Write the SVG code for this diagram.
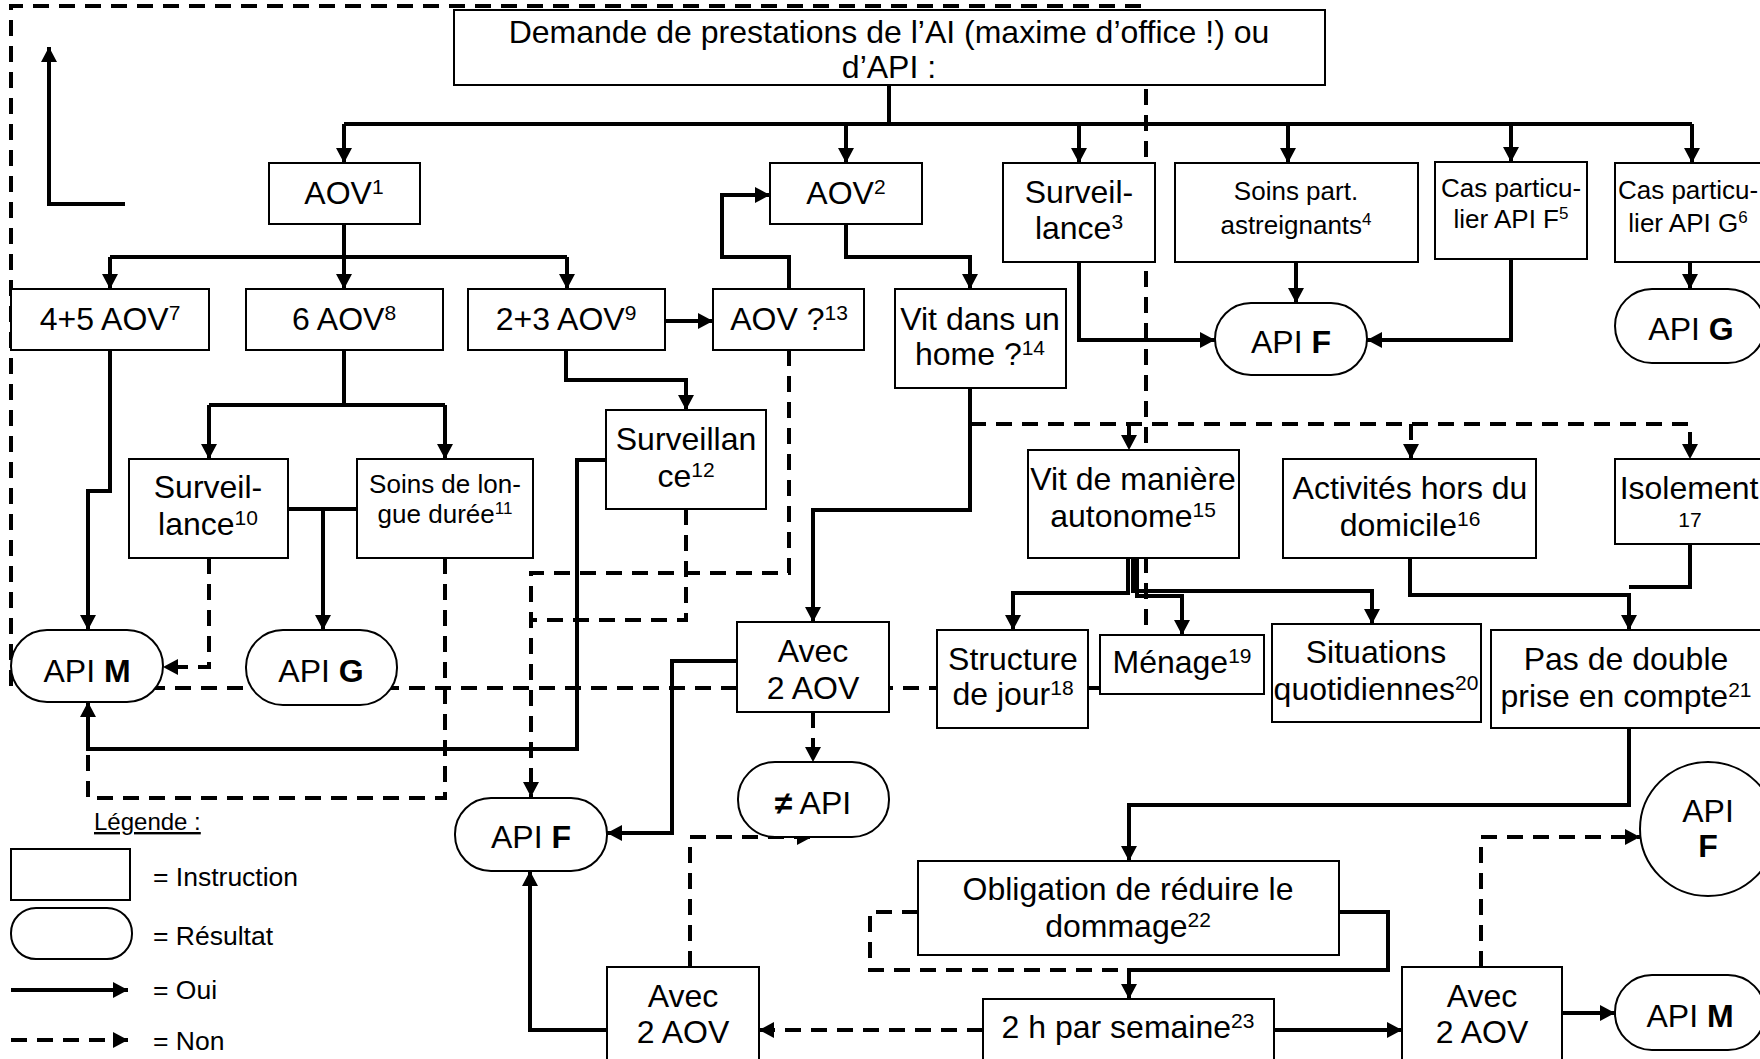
<svg xmlns="http://www.w3.org/2000/svg" width="1760" height="1059" viewBox="0 0 1760 1059">
<defs>
<style>
.box{fill:#fff;stroke:#000;stroke-width:2}
.t{font-family:"Liberation Sans",Arial,sans-serif;font-size:32px;text-anchor:middle;fill:#000}
.s{font-size:26px}
.sup{font-size:21px}
.sups{font-size:17px}
.lg{font-family:"Liberation Sans",Arial,sans-serif;font-size:26.5px;fill:#000}
.ln{fill:none;stroke:#000;stroke-width:4}
.dl{fill:none;stroke:#000;stroke-width:4;stroke-dasharray:16 10}
.b{font-weight:bold}
</style>
<marker id="ah" markerUnits="userSpaceOnUse" markerWidth="16" markerHeight="16" refX="15" refY="8" orient="auto"><path d="M0,0 L15,8 L0,16 z" fill="#000"/></marker>
</defs>
<rect x="0" y="0" width="1760" height="1059" fill="#fff"/>

<g id="connectors">
<path class="ln" d="M889,85 V124"/>
<path class="ln" d="M344,124 H1692"/>
<path class="ln" d="M344,124 V163" marker-end="url(#ah)"/>
<path class="ln" d="M846,124 V163" marker-end="url(#ah)"/>
<path class="ln" d="M1079,124 V163" marker-end="url(#ah)"/>
<path class="ln" d="M1288,124 V163" marker-end="url(#ah)"/>
<path class="ln" d="M1511,124 V162" marker-end="url(#ah)"/>
<path class="ln" d="M1692,124 V163" marker-end="url(#ah)"/>
<path class="ln" d="M344,224 V257"/>
<path class="ln" d="M110,257 H567"/>
<path class="ln" d="M110,257 V289" marker-end="url(#ah)"/>
<path class="ln" d="M344,257 V289" marker-end="url(#ah)"/>
<path class="ln" d="M567,257 V289" marker-end="url(#ah)"/>
<path class="ln" d="M846,224 V257 H970 V289" marker-end="url(#ah)"/>
<path class="ln" d="M789,289 V257 H722 V195 H770" marker-end="url(#ah)"/>
<path class="ln" d="M665,321 H713" marker-end="url(#ah)"/>
<path class="ln" d="M1079,262 V340 H1215" marker-end="url(#ah)"/>
<path class="ln" d="M1296,262 V303" marker-end="url(#ah)"/>
<path class="ln" d="M1511,259 V340 H1367" marker-end="url(#ah)"/>
<path class="ln" d="M1690,262 V289" marker-end="url(#ah)"/>
<path class="ln" d="M110,350 V491 H88 V630" marker-end="url(#ah)"/>
<path class="ln" d="M344,350 V405"/>
<path class="ln" d="M209,405 H445"/>
<path class="ln" d="M209,405 V459" marker-end="url(#ah)"/>
<path class="ln" d="M445,405 V459" marker-end="url(#ah)"/>
<path class="ln" d="M288,509 H357"/>
<path class="ln" d="M323,509 V630" marker-end="url(#ah)"/>
<path class="ln" d="M566,350 V380 H686 V410" marker-end="url(#ah)"/>
<path class="ln" d="M606,460 H577 V749 H88 V702" marker-end="url(#ah)"/>
<path class="ln" d="M970,388 V510 H813 V622" marker-end="url(#ah)"/>
<path class="ln" d="M737,661 H672 V833 H607" marker-end="url(#ah)"/>
<path class="ln" d="M607,1030 H530 V871" marker-end="url(#ah)"/>
<path class="ln" d="M1128,558 V593 H1013 V630" marker-end="url(#ah)"/>
<path class="ln" d="M1133,558 V591 H1372 V624" marker-end="url(#ah)"/>
<path class="ln" d="M1137,558 V596 H1182 V635" marker-end="url(#ah)"/>
<path class="ln" d="M1410,558 V595 H1629 V630" marker-end="url(#ah)"/>
<path class="ln" d="M1690,544 V587 H1629"/>
<path class="ln" d="M1629,728 V805 H1129 V861" marker-end="url(#ah)"/>
<path class="ln" d="M1339,912 H1388 V970 H1129 V999" marker-end="url(#ah)"/>
<path class="ln" d="M1274,1030 H1402" marker-end="url(#ah)"/>
<path class="ln" d="M1562,1013 H1615" marker-end="url(#ah)"/>
<path class="ln" d="M125,204 H49 V47" marker-end="url(#ah)"/>
<path class="dl" d="M1146,625 V6 H11 V688 H1100"/>
<path class="dl" d="M209,558 V667 H163" marker-end="url(#ah)"/>
<path class="dl" d="M445,558 V798 H88 V752"/>
<path class="dl" d="M789,350 V573 H531 V797" marker-end="url(#ah)"/>
<path class="dl" d="M686,509 V620 H531"/>
<path class="dl" d="M970,424 H1690 V459" marker-end="url(#ah)"/>
<path class="dl" d="M1129,424 V450" marker-end="url(#ah)"/>
<path class="dl" d="M1411,424 V459" marker-end="url(#ah)"/>
<path class="dl" d="M813,712 V762" marker-end="url(#ah)"/>
<path class="dl" d="M690,967 V837 H812" marker-end="url(#ah)"/>
<path class="dl" d="M918,912 H870 V970 H1129"/>
<path class="dl" d="M983,1030 H759" marker-end="url(#ah)"/>
<path class="dl" d="M1481,967 V837 H1640" marker-end="url(#ah)"/>
</g>

<g id="n-demande"><rect class="box" x="454" y="10" width="871" height="75"/>
<text class="t" x="889" y="43">Demande de prestations de l’AI (maxime d’office !) ou</text>
<text class="t" x="889" y="78">d’API :</text></g>

<g id="n-aov1"><rect class="box" x="269" y="163" width="151" height="61"/>
<text class="t" x="344" y="204">AOV<tspan class="sup" dy="-10">1</tspan></text></g>

<g id="n-aov2"><rect class="box" x="770" y="163" width="152" height="61"/>
<text class="t" x="846" y="204">AOV<tspan class="sup" dy="-10">2</tspan></text></g>

<g id="n-surv3"><rect class="box" x="1003" y="163" width="152" height="99"/>
<text class="t" x="1079" y="203">Surveil-</text>
<text class="t" x="1079" y="239">lance<tspan class="sup" dy="-10">3</tspan></text></g>

<g id="n-soins4"><rect class="box" x="1175" y="163" width="243" height="99"/>
<text class="t s" x="1296" y="200">Soins part.</text>
<text class="t s" x="1296" y="234">astreignants<tspan class="sups" dy="-9">4</tspan></text></g>

<g id="n-casf5"><rect class="box" x="1435" y="162" width="152" height="97"/>
<text class="t s" x="1511" y="197">Cas particu-</text>
<text class="t s" x="1511" y="228">lier API F<tspan class="sups" dy="-9">5</tspan></text></g>

<g id="n-casg6"><rect class="box" x="1615" y="163" width="150" height="99"/>
<text class="t s" x="1688" y="199">Cas particu-</text>
<text class="t s" x="1688" y="232">lier API G<tspan class="sups" dy="-9">6</tspan></text></g>

<g id="n-apif-top"><rect class="box" x="1215" y="303" width="152" height="72" rx="36"/>
<text class="t" x="1291" y="353">API <tspan class="b">F</tspan></text></g>

<g id="n-apig-top"><rect class="box" x="1615" y="289" width="150" height="74" rx="37"/>
<text class="t" x="1691" y="340">API <tspan class="b">G</tspan></text></g>

<g id="n-aov7"><rect class="box" x="11" y="289" width="198" height="61"/>
<text class="t" x="110" y="330">4+5 AOV<tspan class="sup" dy="-10">7</tspan></text></g>

<g id="n-aov8"><rect class="box" x="246" y="289" width="197" height="61"/>
<text class="t" x="344" y="330">6 AOV<tspan class="sup" dy="-10">8</tspan></text></g>

<g id="n-aov9"><rect class="box" x="468" y="289" width="197" height="61"/>
<text class="t" x="566" y="330">2+3 AOV<tspan class="sup" dy="-10">9</tspan></text></g>

<g id="n-aov13"><rect class="box" x="713" y="289" width="151" height="61"/>
<text class="t" x="789" y="330">AOV ?<tspan class="sup" dy="-10">13</tspan></text></g>

<g id="n-home14"><rect class="box" x="895" y="289" width="171" height="99"/>
<text class="t" x="980" y="330">Vit dans un</text>
<text class="t" x="980" y="365">home ?<tspan class="sup" dy="-10">14</tspan></text></g>

<g id="n-surv10"><rect class="box" x="129" y="459" width="159" height="99"/>
<text class="t" x="208" y="498">Surveil-</text>
<text class="t" x="208" y="535">lance<tspan class="sup" dy="-10">10</tspan></text></g>

<g id="n-soins11"><rect class="box" x="357" y="459" width="176" height="99"/>
<text class="t s" x="445" y="493">Soins de lon-</text>
<text class="t s" x="445" y="523">gue durée<tspan class="sups" dy="-9">11</tspan></text></g>

<g id="n-surv12"><rect class="box" x="606" y="410" width="160" height="99"/>
<text class="t" x="686" y="450">Surveillan</text>
<text class="t" x="686" y="487">ce<tspan class="sup" dy="-10">12</tspan></text></g>

<g id="n-apim-left"><rect class="box" x="11" y="630" width="152" height="72" rx="36"/>
<text class="t" x="87" y="682">API <tspan class="b">M</tspan></text></g>

<g id="n-apig-left"><rect class="box" x="246" y="630" width="151" height="75" rx="37"/>
<text class="t" x="321" y="682">API <tspan class="b">G</tspan></text></g>

<g id="n-avec-mid"><rect class="box" x="737" y="622" width="152" height="90"/>
<text class="t" x="813" y="662">Avec</text>
<text class="t" x="813" y="699">2 AOV</text></g>

<g id="n-noapi"><rect class="box" x="738" y="762" width="151" height="75" rx="37"/>
<text class="t" x="813" y="814"><tspan class="b">≠</tspan> API</text></g>

<g id="n-apif-left"><rect class="box" x="455" y="798" width="152" height="73" rx="36"/>
<text class="t" x="531" y="848">API <tspan class="b">F</tspan></text></g>

<g id="n-auto15"><rect class="box" x="1028" y="450" width="211" height="108"/>
<text class="t" x="1133" y="490">Vit de manière</text>
<text class="t" x="1133" y="527">autonome<tspan class="sup" dy="-10">15</tspan></text></g>

<g id="n-act16"><rect class="box" x="1283" y="459" width="253" height="99"/>
<text class="t" x="1410" y="499">Activités hors du</text>
<text class="t" x="1410" y="536">domicile<tspan class="sup" dy="-10">16</tspan></text></g>

<g id="n-iso17"><rect class="box" x="1615" y="459" width="150" height="85"/>
<text class="t" x="1689" y="499">Isolement</text>
<text class="t sup" x="1690" y="527">17</text></g>

<g id="n-struct18"><rect class="box" x="937" y="630" width="151" height="98"/>
<text class="t" x="1013" y="670">Structure</text>
<text class="t" x="1013" y="705">de jour<tspan class="sup" dy="-10">18</tspan></text></g>

<g id="n-menage19"><rect class="box" x="1100" y="635" width="164" height="59"/>
<text class="t" x="1182" y="673">Ménage<tspan class="sup" dy="-10">19</tspan></text></g>

<g id="n-sit20"><rect class="box" x="1272" y="624" width="209" height="98"/>
<text class="t" x="1376" y="663">Situations</text>
<text class="t" x="1376" y="700">quotidiennes<tspan class="sup" dy="-10">20</tspan></text></g>

<g id="n-double21"><rect class="box" x="1491" y="630" width="274" height="98"/>
<text class="t" x="1626" y="670">Pas de double</text>
<text class="t" x="1626" y="707">prise en compte<tspan class="sup" dy="-10">21</tspan></text></g>

<g id="n-oblig22"><rect class="box" x="918" y="861" width="421" height="94"/>
<text class="t" x="1128" y="900">Obligation de réduire le</text>
<text class="t" x="1128" y="937">dommage<tspan class="sup" dy="-10">22</tspan></text></g>

<g id="n-2h23"><rect class="box" x="983" y="999" width="291" height="70"/>
<text class="t" x="1128" y="1038">2 h par semaine<tspan class="sup" dy="-10">23</tspan></text></g>

<g id="n-avec-ll"><rect class="box" x="607" y="967" width="152" height="100"/>
<text class="t" x="683" y="1007">Avec</text>
<text class="t" x="683" y="1043">2 AOV</text></g>

<g id="n-avec-lr"><rect class="box" x="1402" y="967" width="160" height="100"/>
<text class="t" x="1482" y="1007">Avec</text>
<text class="t" x="1482" y="1043">2 AOV</text></g>

<g id="n-apif-circle"><ellipse class="box" cx="1708" cy="829" rx="68" ry="67"/>
<text class="t" x="1708" y="822">API</text>
<text class="t b" x="1708" y="857">F</text></g>

<g id="n-apim-right"><rect class="box" x="1615" y="975" width="150" height="75" rx="37"/>
<text class="t" x="1690" y="1027">API <tspan class="b">M</tspan></text></g>

<g id="legend">
<text class="lg" x="94" y="830" style="font-size:24px" text-decoration="underline">Légende :</text>
<rect class="box" x="11" y="849" width="119" height="51"/>
<text class="lg" x="153" y="886">= Instruction</text>
<rect class="box" x="11" y="908" width="121" height="51" rx="25"/>
<text class="lg" x="153" y="945">= Résultat</text>
<path class="ln" d="M11,990 H128" marker-end="url(#ah)"/>
<text class="lg" x="153" y="999">= Oui</text>
<path class="dl" d="M11,1040 H128" marker-end="url(#ah)"/>
<text class="lg" x="153" y="1050">= Non</text>
</g>
</svg>
